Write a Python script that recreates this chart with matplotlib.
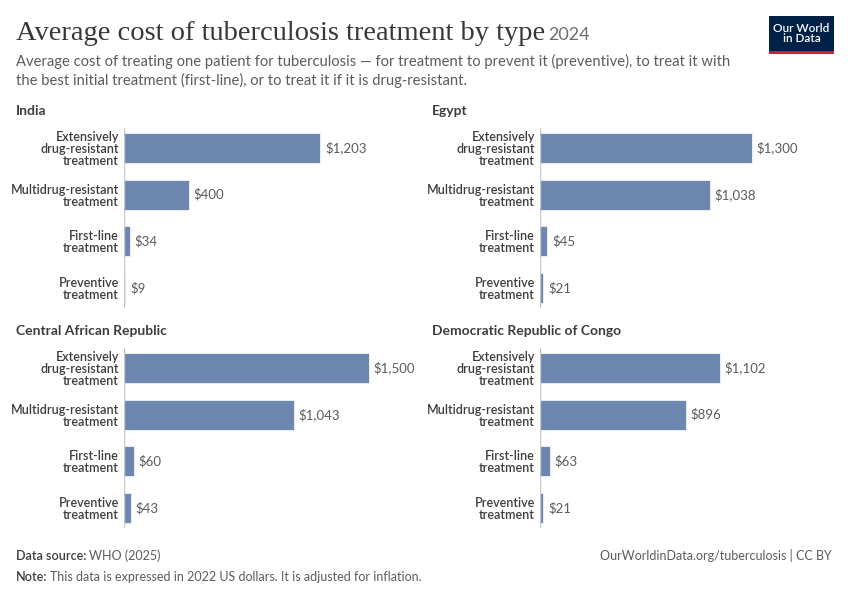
import matplotlib.pyplot as plt
from matplotlib.patches import Rectangle

plt.rcParams['font.family'] = ['Lato', 'DejaVu Sans']

categories = ["Extensively\ndrug-resistant\ntreatment", "Multidrug-resistant\ntreatment",
              "First-line\ntreatment", "Preventive\ntreatment"]
countries = ["India", "Egypt", "Central African Republic", "Democratic Republic of Congo"]
india = [1203, 400, 34, 9]
egypt = [1300, 1038, 45, 21]
car = [1500, 1043, 60, 43]
drc = [1102, 896, 63, 21]
series = [india, egypt, car, drc]

W, H = 850, 600
fig = plt.figure(figsize=(8.5, 6), dpi=100)
renderer = fig.canvas.get_renderer()

bar_color = "#6d87b0"
text_dark = "#3d3d3d"
text_gray = "#5b5b5b"


def text_right_edge(t):
    bb = t.get_window_extent(renderer=renderer)
    return bb.x1


# panel positions in pixels: (left, top)
panels = [(124, 128), (540, 128), (124, 348), (540, 348)]
ax_w, ax_h = 276, 180
px_per_unit = 0.1633

for (left, top), name, vals in zip(panels, countries, series):
    ax = fig.add_axes([left / W, 1 - (top + ax_h) / H, ax_w / W, ax_h / H])
    y = list(range(len(categories)))
    ax.barh(y, vals, height=0.64, color=bar_color, edgecolor="white", linewidth=0.5)
    ax.set_xlim(0, ax_w / px_per_unit)
    ax.set_ylim(3.43, -0.43)
    ax.axvline(0, color="#c8c8c8", linewidth=1)
    for s in ax.spines.values():
        s.set_visible(False)
    ax.set_xticks([])
    ax.set_yticks(y)
    ax.set_yticklabels(categories, fontsize=9.0, color=text_dark, fontweight="semibold",
                       linespacing=1.0)
    ax.tick_params(axis="y", length=0, pad=3.7)
    for yi, v in zip(y, vals):
        ax.text(v + 28, yi, f"${v:,}", va="center", ha="left", fontsize=9.5, color=text_gray)
    fig.text((left - 108) / W, 1 - (top - 17) / H, name, fontsize=10, fontweight="bold",
             color=text_dark, va="center", ha="left")

# title
title = fig.text(16 / W, 1 - 33 / H, "Average cost of tuberculosis treatment by type",
                 fontsize=20.5, family=["Liberation Serif"], color="#373737", va="center")
fig.text((text_right_edge(title) + 3) / W, 1 - 35 / H, "2024", fontsize=13,
         color="#6e6e6e", va="center")
fig.text(16 / W, 1 - 61 / H,
         "Average cost of treating one patient for tuberculosis — for treatment to prevent it (preventive), to treat it with",
         fontsize=10.65, color=text_gray, va="center")
fig.text(16 / W, 1 - 80 / H,
         "the best initial treatment (first-line), or to treat it if it is drug-resistant.",
         fontsize=10.65, color=text_gray, va="center")

# logo
fig.patches.append(Rectangle((769 / W, 1 - 52 / H), 65 / W, 36 / H, transform=fig.transFigure,
                             facecolor="#002147", edgecolor="none"))
fig.patches.append(Rectangle((769 / W, 1 - 54 / H), 65 / W, 3 / H, transform=fig.transFigure,
                             facecolor="#ce261e", edgecolor="none"))
fig.text(801.5 / W, 1 - 33.5 / H, "Our World\nin Data", fontsize=8.5, color="white",
         ha="center", va="center", linespacing=1.0, fontweight="semibold")

# footer
src = fig.text(16 / W, 1 - 556 / H, "Data source:", fontsize=9, color=text_dark,
               fontweight="semibold", va="center")
fig.text((text_right_edge(src) + 3) / W, 1 - 556 / H, "WHO (2025)", fontsize=9,
         color=text_gray, va="center")
note = fig.text(16 / W, 1 - 577 / H, "Note:", fontsize=9, color=text_dark,
                fontweight="semibold", va="center")
fig.text((text_right_edge(note) + 3) / W, 1 - 577 / H,
         "This data is expressed in 2022 US dollars. It is adjusted for inflation.",
         fontsize=9, color=text_gray, va="center")
fig.text(832 / W, 1 - 556 / H, "OurWorldinData.org/tuberculosis | CC BY", fontsize=9,
         color=text_gray, va="center", ha="right")

fig.savefig("out.png", dpi=100, facecolor="white")
